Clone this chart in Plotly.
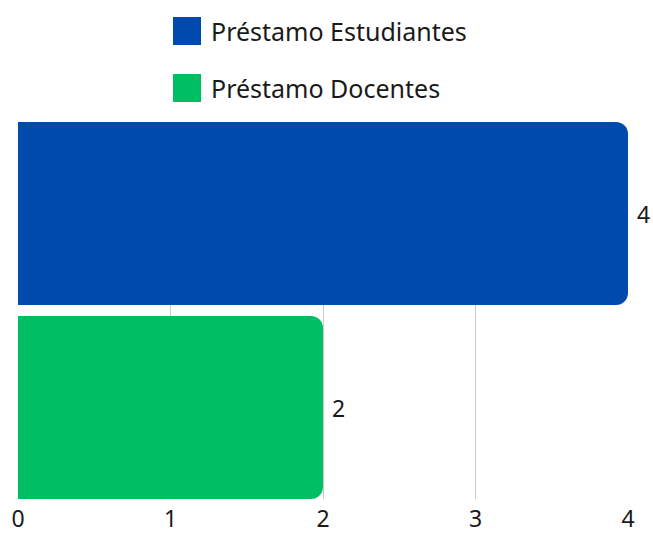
import plotly.graph_objects as go

series_names = ["Préstamo Estudiantes", "Préstamo Docentes"]
series_values = [4, 2]
series_colors = ["#004AAD", "#00BF63"]
category = [""]
x_ticks = [0, 1, 2, 3, 4]

FONT = "Noto Sans"
FS = 23
g = 0.0567

fig = go.Figure()
for name, val, col in zip(series_names, series_values, series_colors):
    fig.add_trace(go.Bar(
        y=category, x=[val], name=name, orientation="h",
        marker=dict(color=col, cornerradius=12, line=dict(width=0)),
        text=[" " + str(val)], textposition="outside", cliponaxis=False,
        textfont=dict(family=FONT, size=FS, color="#1a1a1a"),
        showlegend=False,
    ))

# custom legend (large square swatches)
for i, (name, col) in enumerate(zip(series_names, series_colors)):
    yc = 31 + 57 * i
    fig.add_shape(type="rect", xref="paper", yref="paper",
                  x0=(173 - 18) / 610, x1=(201 - 18) / 610,
                  y0=(499 - (yc + 14)) / 377, y1=(499 - (yc - 14)) / 377,
                  fillcolor=col, line=dict(width=0))
    fig.add_annotation(xref="paper", yref="paper", x=(209 - 18) / 610,
                       y=(499 - yc) / 377, text=name, showarrow=False,
                       xanchor="left", yanchor="middle",
                       font=dict(family=FONT, size=25, color="#1a1a1a"))

fig.update_layout(
    width=653, height=533,
    margin=dict(l=18, r=25, t=122, b=34, autoexpand=False),
    paper_bgcolor="white", plot_bgcolor="white",
    barmode="group", bargap=0, bargroupgap=g,
    font=dict(family=FONT, size=FS, color="#1a1a1a"),
    xaxis=dict(range=[0, 4], tickvals=x_ticks, showgrid=True,
               gridcolor="#cccccc", gridwidth=1, zeroline=False,
               showline=False, ticks="", tickfont=dict(size=FS),
               automargin=False, ticklabelstandoff=4),
    yaxis=dict(range=[0.5 - 0.25 * g, -0.5 + 0.25 * g], showticklabels=False,
               showgrid=False, zeroline=False, showline=False,
               automargin=False),
    showlegend=False,
)

fig.write_html("out.html", config={"displayModeBar": False})
with open("out.html", encoding="utf-8") as f:
    html = f.read()
html = html.replace("<body>", '<body style="margin:0;overflow:hidden">', 1)
with open("out.html", "w", encoding="utf-8") as f:
    f.write(html)
